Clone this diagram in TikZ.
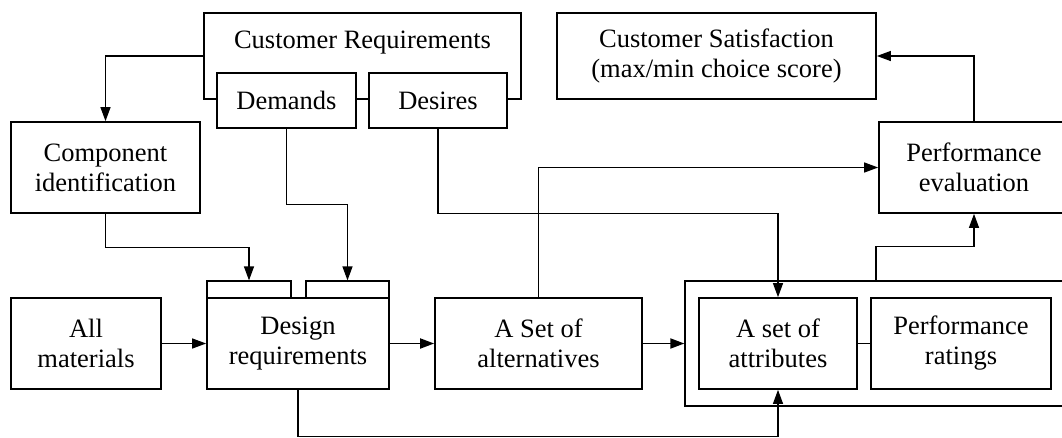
\documentclass[tikz,border=0pt]{standalone}
\usepackage{fontspec}
\setmainfont{Liberation Serif}
\usetikzlibrary{arrows.meta}
\begin{document}
\begin{tikzpicture}[x=1pt,y=-1pt,
  box/.style={draw,line width=1.7pt,fill=white,inner sep=0pt,align=center,
    font=\fontsize{26.5}{30}\selectfont},
  thinbox/.style={draw,line width=1.2pt,fill=white,inner sep=0pt},
  conn/.style={line width=1.2pt},
  arr/.style={conn,-{Triangle[length=14pt,width=10pt]}},
  thickarr/.style={line width=1.8pt,-{Triangle[length=14pt,width=10pt]}},
  lbl/.style={inner sep=0pt,align=center,font=\fontsize{26.5}{30}\selectfont}]
\useasboundingbox (0,0) rectangle (1062,437);
\clip (0,0) rectangle (1062,437);
% Customer requirements group
\node[box,minimum width=317pt,minimum height=86pt] (crouter) at (362.5,56) {};
\node[lbl] (crtext) at (362.5,43) {Customer Requirements};
\node[box,minimum width=139pt,minimum height=55pt] (demands) at (286.5,100.5) {Demands};
\node[box,minimum width=138pt,minimum height=55pt] (desires) at (438,100.5) {Desires};
% other top boxes
\node[box,minimum width=319pt,minimum height=86pt] (cs) at (716.5,56) {Customer Satisfaction\\(max/min choice score)};
\node[box,minimum width=189pt,minimum height=91pt] (comp) at (105.5,167.5) {Component\\identification};
\node[box,minimum width=190pt,minimum height=91pt] (perf) at (974,167.5) {Performance\\evaluation};
% bottom row
\node[box,minimum width=150pt,minimum height=91pt] (allmat) at (86,343.5) {All\\materials};
\node[thinbox,minimum width=84pt,minimum height=17pt] (tabA) at (249,289.5) {};
\node[thinbox,minimum width=83pt,minimum height=17pt] (tabB) at (347.5,289.5) {};
\node[box,minimum width=182pt,minimum height=91pt] (design) at (298,343.5) {Design\\requirements};
\node[box,minimum width=207pt,minimum height=91pt] (alt) at (538.5,343.5) {A Set of\\alternatives};
\node[draw,line width=1.3pt,inner sep=0pt,minimum width=382pt,minimum height=125pt] (group) at (876,343.5) {};
\node[box,minimum width=158pt,minimum height=91pt] (attr) at (778,343.5) {A set of\\attributes};
\node[box,minimum width=180pt,minimum height=91pt] (rating) at (961,343.5) {Performance\\ratings};
% connectors
\draw[arr] (crouter.west) -| (comp.north);
\draw[arr] (comp.south) -- ++(0,34) -| (tabA.north);
\draw[arr] (demands.south) -- ++(0,76) -| (tabB.north);
\draw[arr] (desires.south) -- ++(0,85) -| (attr.north);
\draw[arr] (alt.north) |- (perf.west);
\draw[arr] (group.north) -- ++(0,-34) -| (perf.south);
\draw[arr] (perf.north) |- (cs.east);
\draw[arr] (design.south) -- ++(0,47) -| (attr.south);
\draw[arr] (allmat.east) -- (design.west);
\draw[thickarr] (design.east) -- (alt.west);
\draw[thickarr] (alt.east) -- (group.west);
\draw[conn] (attr.east) -- (rating.west);
\end{tikzpicture}
\end{document}
